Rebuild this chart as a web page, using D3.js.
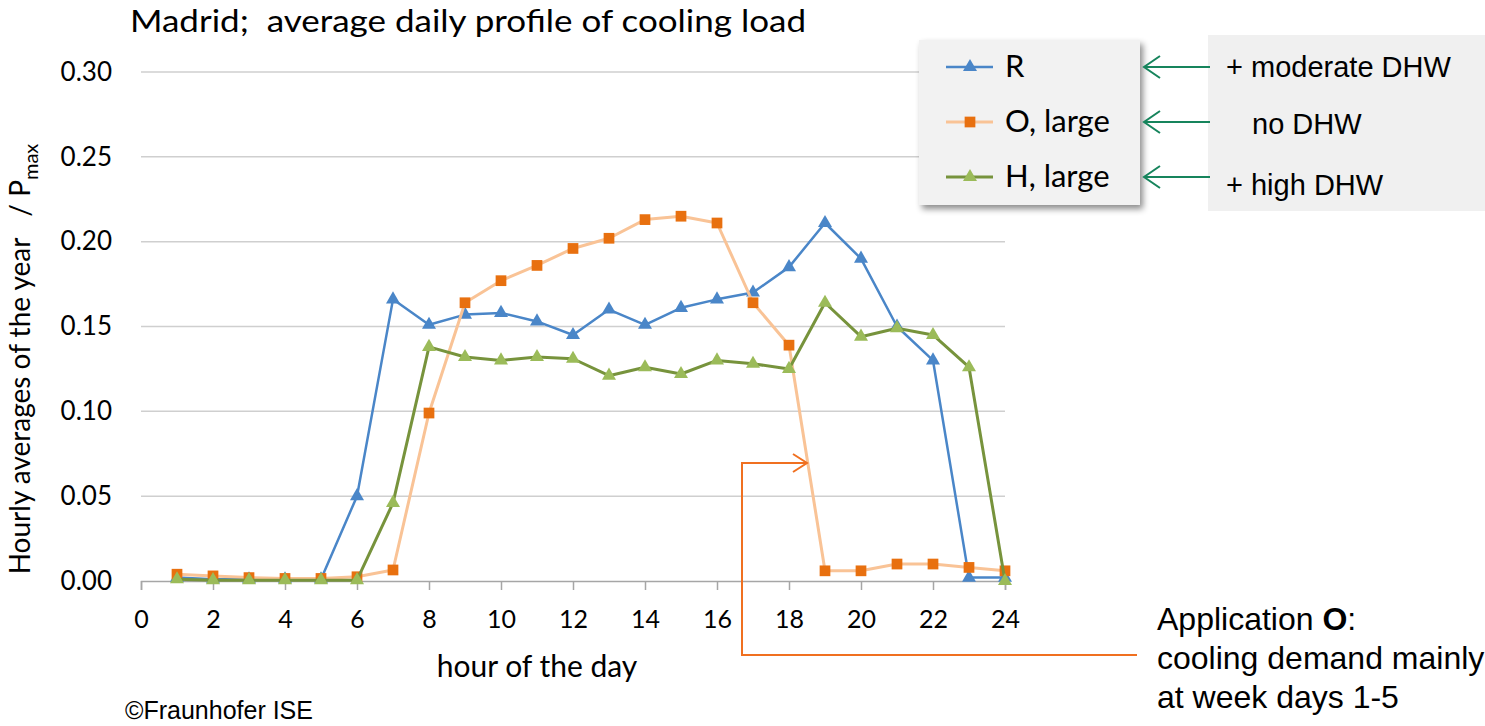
<!DOCTYPE html>
<html><head><meta charset="utf-8">
<script src="https://cdn.jsdelivr.net/npm/d3@7"></script>
<style>body{margin:0;background:#fff}svg{display:block}text{white-space:pre}</style>
</head><body>
<script>
const hours = [1,2,3,4,5,6,7,8,9,10,11,12,13,14,15,16,17,18,19,20,21,22,23,24];
const seriesR = [0.002,0.001,0.001,0.001,0.001,0.050,0.166,0.151,0.157,0.158,0.153,0.145,0.160,0.151,0.161,0.166,0.170,0.185,0.211,0.190,0.150,0.130,0.002,0.002];
const seriesO = [0.004,0.003,0.002,0.0015,0.0015,0.0025,0.0065,0.099,0.164,0.177,0.186,0.196,0.202,0.213,0.215,0.211,0.164,0.139,0.006,0.006,0.010,0.010,0.008,0.006];
const seriesH = [0.001,0.0005,0.0005,0.0005,0.0005,0.0005,0.046,0.138,0.132,0.130,0.132,0.131,0.121,0.126,0.122,0.130,0.128,0.125,0.164,0.144,0.149,0.145,0.126,0.0];
const seriesNames = ["R","O, large","H, large"];
const notes = ["+ moderate DHW","no DHW","+ high DHW"];
const xTicks = [0,2,4,6,8,10,12,14,16,18,20,22,24];
const yTicks = [0,0.05,0.10,0.15,0.20,0.25,0.30];

const W=1485,H=726;
const svg=d3.select("body").append("svg").attr("width",W).attr("height",H);
const font="Lato, 'Open Sans', sans-serif";
const x=d3.scaleLinear().domain([0,24]).range([141,1005]);
const y=d3.scaleLinear().domain([0,0.30]).range([581,72]);

const defs=svg.append("defs");
const f=defs.append("filter").attr("id","sh").attr("x","-10%").attr("y","-10%").attr("width","130%").attr("height","130%");
f.append("feDropShadow").attr("dx",3).attr("dy",4).attr("stdDeviation",3).attr("flood-color","#000").attr("flood-opacity",0.45);

// title
svg.append("text").attr("x",130).attr("y",32).attr("font-family",font).attr("font-size",31).attr("fill","#000")
  .attr("textLength",676).attr("lengthAdjust","spacingAndGlyphs")
  .text("Madrid;  average daily profile of cooling load");

// gridlines
svg.append("g").selectAll("line").data(yTicks.filter(d=>d>0)).join("line")
  .attr("x1",x(0)).attr("x2",x(24)).attr("y1",d=>y(d)).attr("y2",d=>y(d))
  .attr("stroke","#cfcfcf").attr("stroke-width",1.5);

// y axis labels
const ya=svg.append("g").attr("transform",`translate(${x(0)},0)`)
  .call(d3.axisLeft(y).tickValues(yTicks).tickFormat(d3.format(".2f")).tickSize(0).tickPadding(29));
ya.select(".domain").remove();
ya.selectAll("text").attr("font-family",font).attr("font-size",26).attr("fill","#000");

// x axis
const xa=svg.append("g").attr("transform",`translate(0,${y(0)})`)
  .call(d3.axisBottom(x).tickValues(xTicks).tickSize(9).tickPadding(20));
xa.select(".domain").attr("stroke","#a6a6a6").attr("stroke-width",1.5);
xa.selectAll(".tick line").attr("stroke","#a6a6a6").attr("stroke-width",1.5);
xa.selectAll("text").attr("font-family",font).attr("font-size",25).attr("fill","#000");

svg.append("text").attr("x",537).attr("y",677).attr("text-anchor","middle").attr("font-family",font).attr("font-size",30).text("hour of the day");

// y title
const yt=svg.append("text").attr("transform","translate(30,359) rotate(-90)").attr("text-anchor","middle")
  .attr("font-family",font).attr("font-size",28);
yt.append("tspan").text("Hourly averages of the year   / P");
yt.append("tspan").attr("dy",8).attr("font-size",20).text("max");

const line=d3.line().x((d,i)=>x(hours[i])).y(d=>y(d));
const tri=d3.symbol().type(d3.symbolTriangle).size(85);
const sq=d3.symbol().type(d3.symbolSquare).size(115);

const cfg=[
 {data:seriesR,lc:"#4a86c8",mc:"#4a86c8",sym:tri,lw:2.5},
 {data:seriesO,lc:"#f9c396",mc:"#e8700f",sym:sq,lw:3},
 {data:seriesH,lc:"#77933c",mc:"#9bbb59",sym:tri,lw:3}
];
cfg.forEach(c=>{
  svg.append("path").datum(c.data).attr("d",line).attr("fill","none").attr("stroke",c.lc).attr("stroke-width",c.lw).attr("stroke-linejoin","round");
  svg.append("g").selectAll("path").data(c.data).join("path")
    .attr("transform",(d,i)=>`translate(${x(hours[i])},${y(d)})`).attr("d",c.sym).attr("fill",c.mc);
});

// orange annotation
const oc="#f07020";
svg.append("polyline").attr("points","1137,655 742,655 742,463 807,463").attr("fill","none").attr("stroke",oc).attr("stroke-width",2);
svg.append("polyline").attr("points","793,454 807,463 793,472").attr("fill","none").attr("stroke",oc).attr("stroke-width",2);

// legend box
svg.append("rect").attr("x",919).attr("y",40).attr("width",221).attr("height",165).attr("fill","#f2f2f2").attr("filter","url(#sh)");
const ly=[67,122,177];
cfg.forEach((c,i)=>{
  svg.append("line").attr("x1",946).attr("x2",993).attr("y1",ly[i]).attr("y2",ly[i]).attr("stroke",c.lc).attr("stroke-width",c.lw);
  svg.append("path").attr("transform",`translate(970,${ly[i]})`).attr("d",c.sym).attr("fill",c.mc);
  svg.append("text").attr("x",1005).attr("y",ly[i]+10).attr("font-family",font).attr("font-size",31).text(seriesNames[i]);
});

// notes box
svg.append("rect").attr("x",1208).attr("y",35).attr("width",277).attr("height",176).attr("fill","#f0f0f0");
const nx=[1226,1252,1226], ny=[67,124,185];
notes.forEach((t,i)=>{
  svg.append("text").attr("x",nx[i]).attr("y",ny[i]+10).attr("font-family","'Liberation Sans', Arial, sans-serif").attr("font-size",29).text(t);
});
const gc="#16845c";
ly.forEach(v=>{
  svg.append("line").attr("x1",1210).attr("x2",1144).attr("y1",v).attr("y2",v).attr("stroke",gc).attr("stroke-width",2);
  svg.append("polyline").attr("points",`1160,${v-11} 1144,${v} 1160,${v+11}`).attr("fill","none").attr("stroke",gc).attr("stroke-width",2);
});

// application note
const af="'Liberation Sans Narrow', 'Liberation Sans', Arial, sans-serif";
const a1=svg.append("text").attr("x",1157).attr("y",630).attr("font-family",af).attr("font-size",32);
a1.append("tspan").text("Application ");
a1.append("tspan").attr("font-weight","bold").text("O");
a1.append("tspan").text(":");
svg.append("text").attr("x",1157).attr("y",669).attr("font-family",af).attr("font-size",32).text("cooling demand mainly");
svg.append("text").attr("x",1157).attr("y",708).attr("font-family",af).attr("font-size",32).text("at week days 1-5");

svg.append("text").attr("x",125).attr("y",719).attr("font-family","'Liberation Sans', Arial, sans-serif").attr("font-size",25).text("©Fraunhofer ISE");
</script>
</body></html>
